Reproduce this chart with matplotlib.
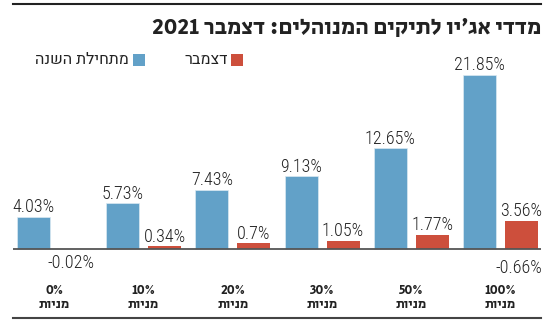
import re
import matplotlib
matplotlib.use("Agg")
import matplotlib.pyplot as plt
from matplotlib.patches import Rectangle
from matplotlib.lines import Line2D

# Data
categories = ["0%", "10%", "20%", "30%", "50%", "100%"]
cat_word = "מניות"
ytd = [4.03, 5.73, 7.43, 9.13, 12.65, 21.85]
december = [-0.02, 0.34, 0.7, 1.05, 1.77, 3.56]
stray_idx = [5]
stray_vals = [-0.66]

title = "מדדי אג׳יו לתיקים המנוהלים: דצמבר 2021"
lbl_ytd = "מתחילת השנה"
lbl_dec = "דצמבר"

BLUE = "#62a1c8"
RED = "#cd4f3c"
INK = "#222222"

NUM_FONT = ["Roboto Condensed", "DejaVu Sans"]
HEB_FONT = ["Heebo", "DejaVu Sans"]
BOLD_FONT = ["Secular One", "DejaVu Sans"]


def rtl(s):
    # matplotlib has no bidi: flip the string, keep number runs in order
    r = s[::-1]
    return re.sub(r"[0-9][0-9.,%]*", lambda m: m.group(0)[::-1], r)


W, H = 550, 333
fig = plt.figure(figsize=(W / 100, H / 100), dpi=100)


def px(x, y):
    return x / W, 1 - y / H


# axes: baseline at y=249px, 7.96 px per unit, group spacing 89.2 px
unit = 7.96
ymin, ymax = -1, 23
top_px = 249 - ymax * unit
bot_px = 249 - ymin * unit
ax = fig.add_axes([13 / W, 1 - bot_px / H, 528 / W, (bot_px - top_px) / H])
ax.set_ylim(ymin, ymax)
ax.set_xlim((13 - 54.5) / 89.2, (541 - 54.5) / 89.2)
ax.axis("off")

bw = 0.37
off = 0.235
xs = list(range(len(categories)))
ax.bar([x - off for x in xs], ytd, width=bw, color=BLUE, edgecolor="#dbe9f2", linewidth=0.5)
ax.bar([x + off for x in xs], december, width=bw, color=RED, linewidth=0)
ax.axhline(0, color="#555555", lw=1.3, zorder=3)

fs = 13
lab = dict(fontsize=fs, family=NUM_FONT, fontweight=300, color=INK, ha="center",
           textcoords="offset points")
for x, v in zip(xs, ytd):
    ax.annotate(f"{v:g}%", (x - off, v), xytext=(0, 0.5), va="bottom", **lab)
for x, v in zip(xs, december):
    if v >= 0:
        ax.annotate(f"{v:g}%", (x + off, v), xytext=(0, 0.5), va="bottom", **lab)
    else:
        ax.annotate(f"{v:g}%", (x + off, 0), xytext=(-3, -3.5), va="top", **lab)
for i, v in zip(stray_idx, stray_vals):
    ax.annotate(f"{v:g}%", (i + off, 0), xytext=(-2, -7), va="top", **lab)

# category labels
tr = matplotlib.transforms.blended_transform_factory(ax.transData, fig.transFigure)
for x, c in zip(xs, categories):
    ax.text(x, 1 - 290 / H, c, transform=tr, ha="center", va="center",
            fontsize=9.5, family=BOLD_FONT, color=INK)
    ax.text(x, 1 - 304 / H, rtl(cat_word), transform=tr, ha="center", va="center",
            fontsize=9.5, family=BOLD_FONT, color=INK)

# rules
fig.add_artist(Line2D([13 / W, 541 / W], [1 - 4 / H, 1 - 4 / H], color=INK, lw=1.5))
fig.add_artist(Line2D([13 / W, 541 / W], [1 - 318 / H, 1 - 318 / H], color="#444444", lw=1.5))

# title
fig.text(*px(541, 28), rtl(title), ha="right", va="center", fontsize=16.5,
         family=BOLD_FONT, color=INK)

# legend
fig.add_artist(Rectangle(px(231, 66), 12 / W, 12 / H, transform=fig.transFigure,
                         color=RED, lw=0))
fig.text(*px(228, 60), rtl(lbl_dec), ha="right", va="center", fontsize=11.5,
         family=HEB_FONT, color=INK)
fig.add_artist(Rectangle(px(133, 66), 12 / W, 12 / H, transform=fig.transFigure,
                         color=BLUE, lw=0))
fig.text(*px(129, 60), rtl(lbl_ytd), ha="right", va="center", fontsize=11.5,
         family=HEB_FONT, color=INK)

fig.savefig("out.png", dpi=100)
